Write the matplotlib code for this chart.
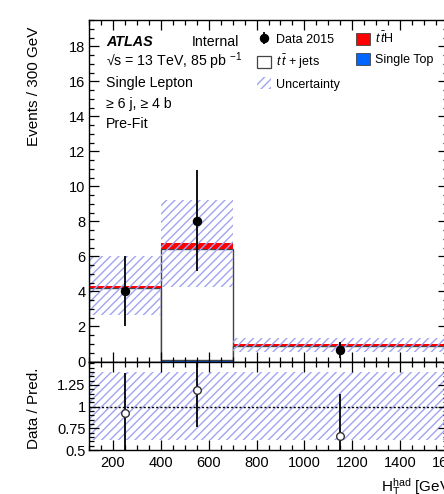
import numpy as np
import matplotlib
matplotlib.use("Agg")
import matplotlib.pyplot as plt
from matplotlib.patches import Patch
from matplotlib.ticker import MultipleLocator, FixedLocator

plt.rcParams['font.family'] = ['Liberation Sans', 'DejaVu Sans']
plt.rcParams['mathtext.fontset'] = 'custom'
plt.rcParams['mathtext.rm'] = 'Liberation Sans'
plt.rcParams['mathtext.it'] = 'Liberation Sans:italic'
plt.rcParams['mathtext.bf'] = 'Liberation Sans:bold'
plt.rcParams['hatch.linewidth'] = 1.0

# binning (GeV) and stacked predictions, events / 300 GeV
bin_edges = [100, 400, 700, 1600]
single_top = [0.0, 0.08, 0.0]
ttbar = [4.20, 6.34, 0.90]
tth = [0.12, 0.35, 0.09]
unc_lo = [2.67, 4.23, 0.57]
unc_hi = [6.04, 9.20, 1.34]

# data
data_x = [250, 550, 1150]
data_y = [4.0, 8.0, 0.667]
data_err_lo = [1.96, 2.83, 0.47]
data_err_hi = [2.0, 2.95, 0.45]

# ratio panel
ratio_y = [0.923, 1.19, 0.66]
ratio_err_lo = [0.47, 0.43, 0.48]
ratio_err_hi = [0.47, 0.45, 0.48]
ratio_band_lo = [0.615, 0.615, 0.615]
ratio_band_hi = [1.40, 1.40, 1.40]

hatch_col = '#a0a4f2'
hatch = '////'
edges = np.array(bin_edges, dtype=float)
left = edges[:-1]
width = np.diff(edges)

fig = plt.figure(figsize=(4.44, 4.94), dpi=100)
W, H = 444.0, 494.0
x0, x1 = 89 / W, 448 / W
ax = fig.add_axes([x0, 1 - 361.5 / H, x1 - x0, (361.5 - 20) / H])
rax = fig.add_axes([x0, 1 - 450 / H, x1 - x0, (450 - 361.5) / H])

st = np.array(single_top)
tt = np.array(ttbar)
th = np.array(tth)
ax.bar(left, st, width=width, align='edge', color='#0066ff', edgecolor='#0066ff', lw=1.0)
ax.bar(left, tt, width=width, bottom=st, align='edge', color='white', edgecolor='#444444', lw=1.0)
ax.bar(left, th, width=width, bottom=st + tt, align='edge', color='#ff0000', edgecolor='none', lw=0)
ax.bar(left, np.array(unc_hi) - np.array(unc_lo), width=width, bottom=unc_lo, align='edge',
       fill=False, hatch=hatch, edgecolor=hatch_col, lw=0)

eb = ax.errorbar(data_x, data_y, yerr=[data_err_lo, data_err_hi], fmt='o', color='black',
                 ms=5.8, lw=1.3, capsize=0, zorder=5)

ax.set_xlim(100, 1600)
ax.set_ylim(0, 19.5)
ax.set_xticklabels([])

rax.bar(left, np.array(ratio_band_hi) - np.array(ratio_band_lo), width=width, bottom=ratio_band_lo,
        align='edge', fill=False, hatch=hatch, edgecolor=hatch_col, lw=0)
rax.axhline(1.0, color='black', ls=(0, (1.5, 1.5)), lw=1.0)
rax.errorbar(data_x, ratio_y, yerr=[ratio_err_lo, ratio_err_hi], fmt='o', color='black',
             mfc='white', mec='#333333', ms=5.5, lw=1.3, capsize=0, zorder=5)
rax.set_xlim(100, 1600)
rax.set_ylim(0.5, 1.52)

for a in (ax, rax):
    a.tick_params(which='both', direction='in', top=True, right=True, labelsize=10.5)
    a.tick_params(which='major', length=7, width=0.9)
    a.tick_params(which='minor', length=3.5, width=0.9)
    a.tick_params(axis='y', pad=2.5)
    a.xaxis.set_major_locator(MultipleLocator(200))
    a.xaxis.set_minor_locator(MultipleLocator(50))
    for s in a.spines.values():
        s.set_linewidth(1.0)
ax.yaxis.set_major_locator(MultipleLocator(2))
ax.yaxis.set_minor_locator(MultipleLocator(0.5))
rax.yaxis.set_major_locator(FixedLocator([0.5, 0.75, 1.0, 1.25]))
rax.yaxis.set_minor_locator(MultipleLocator(0.05))
rax.set_yticklabels(['0.5', '0.75', '1', '1.25'])
rax.tick_params(axis='x', pad=4)

fig.text(34 / W, 1 - 27 / H, 'Events / 300 GeV', rotation=90, ha='center', va='top', fontsize=11)
fig.text(34 / W, 1 - 408 / H, 'Data / Pred.', rotation=90, ha='center', va='center', fontsize=11)
fig.text(381 / W, 2.5 / H, r'$\mathrm{H}_{\mathrm{T}}^{\mathrm{had}}$ [GeV]', ha='left', va='baseline',
         fontsize=11)

def ypos(py):
    return (361.5 - py) / 341.5

tx = (106 - 89) / 359.0
ax.text(tx, ypos(42), 'ATLAS', transform=ax.transAxes, fontsize=10.4, fontweight='bold',
        style='italic', va='center')
ax.text((192 - 89) / 359.0, ypos(42), 'Internal', transform=ax.transAxes, fontsize=10.2, va='center')
ax.text(tx, ypos(61), '√s = 13 TeV, 85 pb $^{-1}$', transform=ax.transAxes, fontsize=10.2, va='center')
ax.text(tx, ypos(83), 'Single Lepton', transform=ax.transAxes, fontsize=10.2, va='center')
ax.text(tx, ypos(104), '≥ 6 j, ≥ 4 b', transform=ax.transAxes, fontsize=10.2, va='center')
ax.text(tx, ypos(124), 'Pre-Fit', transform=ax.transAxes, fontsize=10.2, va='center')

handles = [eb,
           Patch(facecolor='white', edgecolor='#444444', lw=0.9),
           Patch(facecolor='none', hatch=hatch, edgecolor=hatch_col, lw=0),
           Patch(facecolor='#ff0000', edgecolor='#444444', lw=0.6),
           Patch(facecolor='#0066ff', edgecolor='#444444', lw=0.6)]
labels = ['Data 2015', r'$t\,\bar{t}$ + jets', 'Uncertainty', r'$t\,\bar{t}$H', 'Single Top']
ax.legend(handles, labels, ncol=2, loc='upper left', bbox_to_anchor=((257 - 89) / 359.0, ypos(31)),
          frameon=False, fontsize=9, borderpad=0, borderaxespad=0, handlelength=1.12,
          handleheight=1.12, handletextpad=0.4, labelspacing=0.5, columnspacing=1.3)

fig.savefig('out.png', dpi=100)
